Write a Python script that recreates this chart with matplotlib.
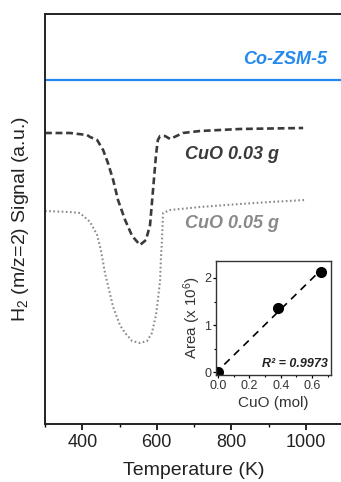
import numpy as np
import matplotlib
matplotlib.use("Agg")
import matplotlib.pyplot as plt
from matplotlib.ticker import MultipleLocator

plt.rcParams['font.family'] = ['Liberation Sans', 'DejaVu Sans']
plt.rcParams['mathtext.fontset'] = 'custom'
plt.rcParams['mathtext.rm'] = 'Liberation Sans'
plt.rcParams['mathtext.it'] = 'Liberation Sans:italic'
plt.rcParams['mathtext.bf'] = 'Liberation Sans:bold'

# ---- data: main TPR traces ----
co_T = [300, 400, 500, 600, 700, 800, 900, 1000, 1100]
co_sig = [3.44, 3.44, 3.44, 3.44, 3.44, 3.44, 3.44, 3.44, 3.44]

cu03_T = [300, 367, 413, 421, 440, 456, 469, 483, 496, 515, 534, 555, 571,
          582, 590, 598, 603, 609, 622, 636, 670, 716, 823, 904, 993]
cu03_sig = [2.91, 2.91, 2.89, 2.87, 2.84, 2.74, 2.61, 2.44, 2.24, 2.04, 1.88,
            1.79, 1.84, 1.99, 2.34, 2.69, 2.84, 2.88, 2.88, 2.85, 2.91, 2.93,
            2.95, 2.955, 2.96]

cu05_T = [300, 367, 394, 421, 440, 450, 461, 483, 501, 515, 534, 555, 574,
          587, 598, 603, 609, 611, 614, 617, 636, 716, 823, 904, 998]
cu05_sig = [2.13, 2.12, 2.11, 2.02, 1.89, 1.74, 1.51, 1.17, 0.99, 0.91, 0.83,
            0.81, 0.83, 0.91, 1.09, 1.24, 1.44, 1.64, 1.84, 2.11, 2.14, 2.17,
            2.20, 2.22, 2.24]

# ---- data: inset ----
cuo_mol = [0.0, 0.383, 0.658]
area = [0.0, 1.36, 2.13]
fit_x = [0.04, 0.66]
r2_text = "R² = 0.9973"

fig = plt.figure(figsize=(3.41, 4.82), dpi=100)
ax = fig.add_axes([45/341, (482-424)/482, (343-45)/341, (424-14)/482])

ax.plot(co_T, co_sig, color='#2489ee', lw=1.6)
ax.plot(cu03_T, cu03_sig, color='#3a3a3a', lw=1.9, ls=(0, (2.6, 1.4)))
ax.plot(cu05_T, cu05_sig, color='#8a8a8a', lw=1.5, ls=(0, (0.8, 1.2)))

ax.text(944, 3.64, 'Co-ZSM-5', color='#2489ee', fontsize=13,
        fontweight='bold', style='italic', ha='center', va='center')
ax.text(676, 2.69, 'CuO 0.03 g', color='#3a3a3a', fontsize=13,
        fontweight='bold', style='italic', ha='left', va='center')
ax.text(676, 2.01, 'CuO 0.05 g', color='#8a8a8a', fontsize=13,
        fontweight='bold', style='italic', ha='left', va='center')

ax.set_xlim(300, 1100)
ax.set_ylim(0, 4.10)
ax.set_xticks([400, 600, 800, 1000])
ax.xaxis.set_minor_locator(MultipleLocator(100))
ax.set_yticks([])
ax.tick_params(axis='x', which='major', direction='out', length=4, width=1.2,
               labelsize=13, labelcolor='#222222', pad=3)
ax.tick_params(axis='x', which='minor', direction='out', length=2, width=1.0)
for s in ax.spines.values():
    s.set_linewidth(1.4)
    s.set_color('#222222')
ax.set_xlabel('Temperature (K)', fontsize=14, color='#222222', labelpad=8)
ax.set_ylabel(r'H$_2$ (m/z=2) Signal (a.u.)', fontsize=14, color='#222222',
              labelpad=10)

# ---- inset ----
axi = fig.add_axes([216/341, (482-375)/482, (331-216)/341, (375-261)/482])
coef = np.polyfit(cuo_mol, area, 1)
fx = np.array(fit_x)
axi.plot(fx, np.polyval(coef, fx), color='black', lw=1.2, ls=(0, (4.5, 3.5)))
axi.plot(cuo_mol, area, 'o', color='black', ms=7)
axi.set_xlim(-0.013, 0.72)
axi.set_ylim(-0.06, 2.36)
axi.set_xticks([0.0, 0.2, 0.4, 0.6])
axi.set_yticks([0, 1, 2])
axi.xaxis.set_minor_locator(MultipleLocator(0.1))
axi.yaxis.set_minor_locator(MultipleLocator(0.5))
axi.tick_params(which='major', direction='out', length=2.5, width=0.9,
                labelsize=9, labelcolor='#333333', pad=1)
axi.tick_params(which='minor', direction='out', length=1.5, width=0.8)
for s in axi.spines.values():
    s.set_linewidth(1.0)
    s.set_color('#333333')
axi.set_xlabel('CuO (mol)', fontsize=11, color='#333333', labelpad=3)
axi.set_ylabel(r'Area (x 10$^6$)', fontsize=11, color='#333333', labelpad=1)
axi.text(0.97, 0.1, r2_text, transform=axi.transAxes, ha='right', va='center',
         fontsize=9, fontweight='bold', style='italic', color='#222222')

fig.savefig('out.png', dpi=100)
